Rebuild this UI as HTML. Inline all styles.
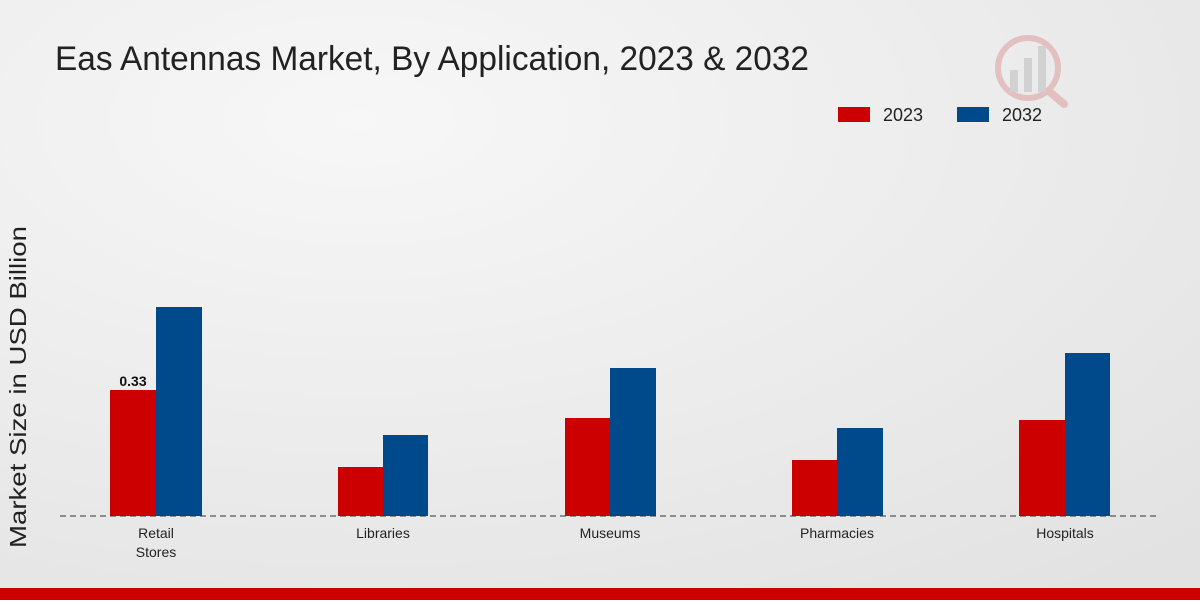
<!DOCTYPE html>
<html><head><meta charset="utf-8"><style>
body{margin:0;width:1200px;height:600px;overflow:hidden;font-family:"Liberation Sans",sans-serif;}
</style></head><body>
<svg width="1200" height="600" xmlns="http://www.w3.org/2000/svg">
<defs><radialGradient id="g" cx="0.3" cy="0.2" r="1"><stop offset="0" stop-color="#f7f7f7"/><stop offset="1" stop-color="#e2e2e2"/></radialGradient></defs>
<rect width="1200" height="600" fill="url(#g)"/>
<rect x="0" y="588" width="1200" height="12" fill="#cc0000"/>
<text x="55" y="70" font-size="34" fill="#222" textLength="754" lengthAdjust="spacingAndGlyphs">Eas Antennas Market, By Application, 2023 &amp; 2032</text>
<g opacity="0.25">
<circle cx="1028" cy="68" r="30" fill="none" stroke="#c44" stroke-width="6"/>
<rect x="1010" y="70" width="8" height="22" fill="#888"/><rect x="1024" y="58" width="8" height="34" fill="#888"/><rect x="1038" y="46" width="8" height="46" fill="#888"/>
<line x1="1050" y1="92" x2="1064" y2="104" stroke="#c44" stroke-width="8" stroke-linecap="round"/>
</g>
<rect x="838" y="107" width="32" height="15" fill="#cc0000"/>
<text x="883" y="121" font-size="18" fill="#222">2023</text>
<rect x="957" y="107" width="32" height="15" fill="#004a8c"/>
<text x="1002" y="121" font-size="18" fill="#222">2032</text>
<text transform="translate(26,387) rotate(-90)" font-size="23" fill="#222" text-anchor="middle" textLength="322" lengthAdjust="spacingAndGlyphs">Market Size in USD Billion</text>
<g fill="#cc0000">
<rect x="110" y="390" width="46" height="126"/><rect x="338" y="467" width="45" height="49"/><rect x="565" y="418" width="45" height="98"/><rect x="792" y="460" width="45" height="56"/><rect x="1019" y="420" width="46" height="96"/>
</g>
<g fill="#004a8c">
<rect x="156" y="307" width="46" height="209"/><rect x="383" y="435" width="45" height="81"/><rect x="610" y="368" width="46" height="148"/><rect x="837" y="428" width="46" height="88"/><rect x="1065" y="353" width="45" height="163"/>
</g>
<line x1="60" y1="516" x2="1160" y2="516" stroke="#333" stroke-dasharray="6,4" stroke-width="1"/>
<text x="133" y="386" font-size="14" font-weight="bold" text-anchor="middle" fill="#111">0.33</text>
<g font-size="14" fill="#222" text-anchor="middle">
<text x="156" y="538">Retail</text><text x="156" y="557">Stores</text>
<text x="383" y="538">Libraries</text>
<text x="610" y="538">Museums</text>
<text x="837" y="538">Pharmacies</text>
<text x="1065" y="538">Hospitals</text>
</g>
</svg>
</body></html>
